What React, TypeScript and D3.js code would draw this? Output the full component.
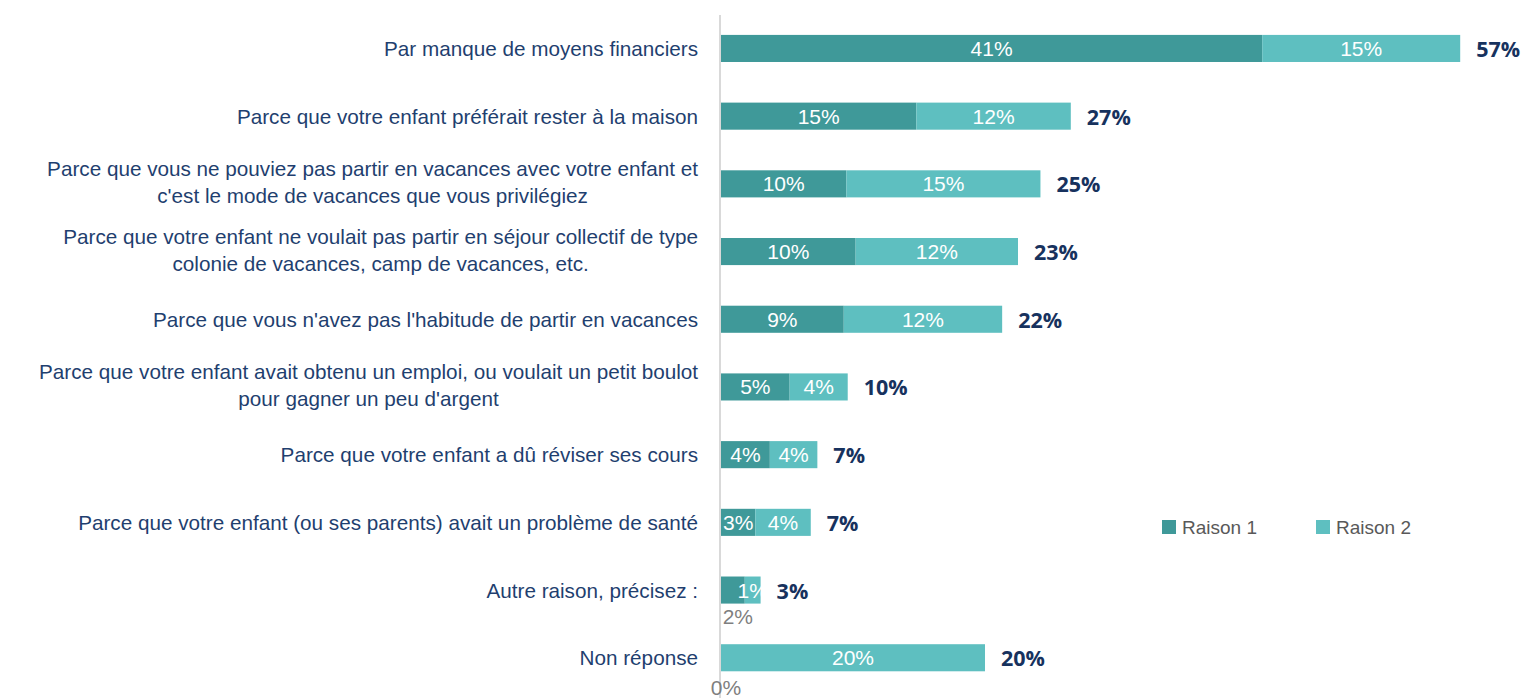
import React from "react";
import * as d3 from "d3";

const categories: string[] = [
  "Par manque de moyens financiers",
  "Parce que votre enfant préférait rester à la maison",
  "Parce que vous ne pouviez pas partir en vacances avec votre enfant et\nc'est le mode de vacances que vous privilégiez",
  "Parce que votre enfant ne voulait pas partir en séjour collectif de type\ncolonie de vacances, camp de vacances, etc.",
  "Parce que vous n'avez pas l'habitude de partir en vacances",
  "Parce que votre enfant avait obtenu un emploi, ou voulait un petit boulot\npour gagner un peu d'argent",
  "Parce que votre enfant a dû réviser ses cours",
  "Parce que votre enfant (ou ses parents) avait un problème de santé",
  "Autre raison, précisez :",
  "Non réponse",
];

const raison1: number[] = [41.0, 14.8, 9.5, 10.2, 9.3, 5.2, 3.7, 2.6, 1.8, 0];
const raison2: number[] = [15.0, 11.7, 14.7, 12.3, 12.0, 4.4, 3.6, 4.2, 1.2, 20.0];
const raison1Labels: string[] = ["41%", "15%", "10%", "10%", "9%", "5%", "4%", "3%", "2%", "0%"];
const raison2Labels: string[] = ["15%", "12%", "15%", "12%", "12%", "4%", "4%", "4%", "1%", "20%"];
const totalLabels: string[] = ["57%", "27%", "25%", "23%", "22%", "10%", "7%", "7%", "3%", "20%"];
const seriesNames: string[] = ["Raison 1", "Raison 2"];

const COLORS = ["#3F9999", "#5EBFC0"];
const LABEL_FONT = "'Liberation Sans', Arial, sans-serif";

let ctx: CanvasRenderingContext2D | null = null;
function measure(text: string, font: string): number {
  if (!ctx) {
    const c = document.createElement("canvas");
    ctx = c.getContext("2d");
  }
  if (!ctx) return text.length * 10;
  ctx.font = font;
  return ctx.measureText(text).width;
}

export default function App() {
  const W = 1524;
  const H = 698;
  const x0 = 721;
  const x = d3.scaleLinear().domain([0, 60]).range([x0, x0 + 60 * 13.2]);
  const y = d3
    .scaleBand<string>()
    .domain(categories)
    .range([14.6, 691.6])
    .paddingInner(0.6)
    .paddingOuter(0.3);
  const bw = y.bandwidth();
  const labelRight = 698;
  const maxLabelW = 688;
  const catFontSize = 20.7;
  const lineH = 27;

  return (
    <svg
      width={W}
      height={H}
      style={{ position: "absolute", left: 0, top: 0, background: "#fff" }}
      fontFamily={LABEL_FONT}
    >
      {/* axis line */}
      <line x1={720} x2={720} y1={15} y2={H} stroke="#D9D9D9" strokeWidth={2} />

      {categories.map((cat, i) => {
        const yc = (y(cat) as number) + bw / 2;
        const lines = cat.split("\n");
        const widths = lines.map((l) => measure(l, `${catFontSize}px ${LABEL_FONT}`));
        const maxW = Math.min(maxLabelW, Math.max(...widths));
        const cx = labelRight - maxW / 2;
        const startY = yc - ((lines.length - 1) * lineH) / 2 - (lines.length > 1 ? 2 : 0);
        const a = raison1[i];
        const b = raison2[i];
        const xa = x(0);
        const xb = x(a);
        const xe = x(a + b);
        return (
          <g key={i}>
            {lines.map((l, j) => (
              <text
                key={j}
                x={lines.length > 1 ? cx : labelRight}
                y={startY + j * lineH}
                textAnchor={lines.length > 1 ? "middle" : "end"}
                dominantBaseline="central"
                fontSize={catFontSize}
                fill="#1F3F6F"
                {...(widths[j] > maxLabelW
                  ? { textLength: maxLabelW, lengthAdjust: "spacingAndGlyphs" }
                  : {})}
              >
                {l}
              </text>
            ))}
            {a > 0 && (
              <rect x={xa} y={y(cat)} width={xb - xa} height={bw} fill={COLORS[0]} />
            )}
            {b > 0 && (
              <rect x={xb} y={y(cat)} width={xe - xb} height={bw} fill={COLORS[1]} />
            )}
            {a >= 2.5 ? (
              <text
                x={(xa + xb) / 2}
                y={yc}
                textAnchor="middle"
                dominantBaseline="central"
                fontSize={21}
                fill="#fff"
              >
                {raison1Labels[i]}
              </text>
            ) : (
              <text
                x={(xa + xb) / 2 + 5}
                y={yc + 26 + (a === 0 ? 4 : 0)}
                textAnchor="middle"
                dominantBaseline="central"
                fontSize={21}
                fill="#7F7F7F"
              >
                {raison1Labels[i]}
              </text>
            )}
            <text
              x={(xb + xe) / 2}
              y={yc}
              textAnchor="middle"
              dominantBaseline="central"
              fontSize={21}
              fill="#fff"
            >
              {raison2Labels[i]}
            </text>
            <text
              x={xe + 16}
              y={yc}
              dominantBaseline="central"
              fontSize={21.5}
              fontWeight="bold"
              fontFamily="'Open Sans', sans-serif"
              fill="#17325E"
            >
              {totalLabels[i]}
            </text>
          </g>
        );
      })}

      {/* legend */}
      {seriesNames.map((s, i) => (
        <g key={s} transform={`translate(${1162 + i * 154}, 520)`}>
          <rect x={0} y={0} width={14} height={14} fill={COLORS[i]} />
          <text x={20} y={7} dominantBaseline="central" fontSize={19} fill="#595959">
            {s}
          </text>
        </g>
      ))}
    </svg>
  );
}
